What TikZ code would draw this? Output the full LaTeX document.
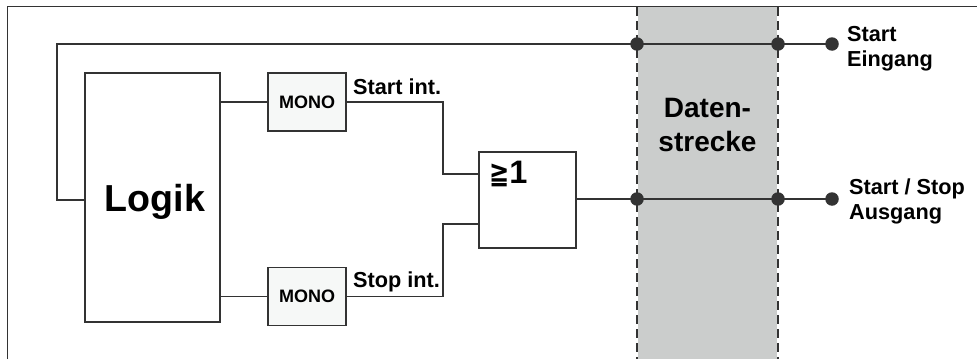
\documentclass[tikz,border=0pt]{standalone}
\usepackage{fontspec}
\setmainfont{Liberation Sans}
\definecolor{ln}{HTML}{333333}
\definecolor{strip}{HTML}{CBCDCC}
\definecolor{monofill}{HTML}{F6F8F7}
\tikzset{
  wire/.style={draw=ln,line width=1.4pt},
  blockbox/.style={draw=ln,line width=1.5pt,fill=white,inner sep=0pt,minimum width=0pt},
  monobox/.style={draw=ln,line width=1.5pt,fill=monofill,inner sep=0pt,minimum width=78pt,minimum height=58pt,font=\fontsize{18}{18}\selectfont\bfseries,text=black},
  dot/.style={circle,fill=ln,draw=none,minimum size=13.5pt,inner sep=0pt},
  lbl/.style={inner sep=0pt,font=\fontsize{21.7}{25}\selectfont\bfseries,align=left,anchor=west},
  dashline/.style={draw=ln,line width=1.4pt,dash pattern=on 9pt off 5pt}
}
\begin{document}
\begin{tikzpicture}[x=1pt,y=-1pt]
\useasboundingbox (0,0) rectangle (977,359);
\fill[white] (0,0) rectangle (977,359);
% frame
\coordinate (fbl) at (7.5,359);
\coordinate (ftl) at (7.5,6.5);
\coordinate (ftr) at (977,6.5);
% strip
\fill[strip] (638,6.5) rectangle (777,359);
\coordinate (s1t) at (637,7);
\coordinate (s1b) at (637,359);
\coordinate (s2t) at (778,7);
\coordinate (s2b) at (778,359);
\draw[dashline] (s1t) -- (s1b);
\draw[dashline] (s2t) -- (s2b);
\draw[draw=ln,line width=1.7pt] (fbl) -- (ftl) -- (ftr);
% blocks
\node[blockbox,minimum width=135pt,minimum height=249pt] (logik) at (152.5,197.5) {};
\node[inner sep=0pt,font=\fontsize{37.6}{37.6}\selectfont\bfseries] (logiktext) at (155,201.5) {Logik};
\node[monobox] (m1) at (307,102) {MONO};
\node[monobox] (m2) at (307,296.5) {MONO};
\node[blockbox,minimum width=97pt,minimum height=96pt] (gate) at (527.5,200) {};
\node[inner sep=0pt,anchor=base west] (ge) at (489,183.5) {\scalebox{1.15}[1.5]{\fontspec{DejaVu Sans}\fontsize{21}{21}\selectfont\bfseries≧}\hspace{0pt}\fontsize{32.5}{32.5}\selectfont\bfseries 1};
% dots
\node[dot] (d1) at (637,44) {};
\node[dot] (d2) at (778,44) {};
\node[dot] (d3) at (832,44) {};
\node[dot] (d4) at (637,199) {};
\node[dot] (d5) at (778,199) {};
\node[dot] (d6) at (832,199) {};
% wires
\coordinate (lk) at (logik.west |- 0,200);
\coordinate (lu) at (logik.east |- m1);
\coordinate (ld) at (logik.east |- m2);
\draw[wire] (lk) -- (57,200) -- (57,44) -- (d1.center) -- (d2.center) -- (d3.center);
\draw[wire] (lu) -- (m1.west);
\draw[wire] (ld) -- (m2.west);
\coordinate (gi1) at (gate.west |- 0,174);
\coordinate (gi2) at (gate.west |- 0,224);
\coordinate (go) at (gate.east |- d4);
\draw[wire] (m1.east) -- (443,102) -- (443,174) -- (gi1);
\draw[wire] (m2.east) -- (443,296.5) -- (443,224) -- (gi2);
\draw[wire] (go) -- (d4.center) -- (d5.center) -- (d6.center);
% labels
\node[lbl] (t1) at (353,87) {Start int.};
\node[lbl] (t2) at (353,281.5) {Stop int.};
\node[inner sep=0pt,font=\fontsize{28}{34}\selectfont\bfseries,align=center] (t3) at (707.5,125) {Daten-\\strecke};
\node[lbl] (t4) at (847,48.5) {Start\\Eingang};
\node[lbl] (t5) at (849,201) {Start / Stop\\Ausgang};
\end{tikzpicture}
\end{document}
